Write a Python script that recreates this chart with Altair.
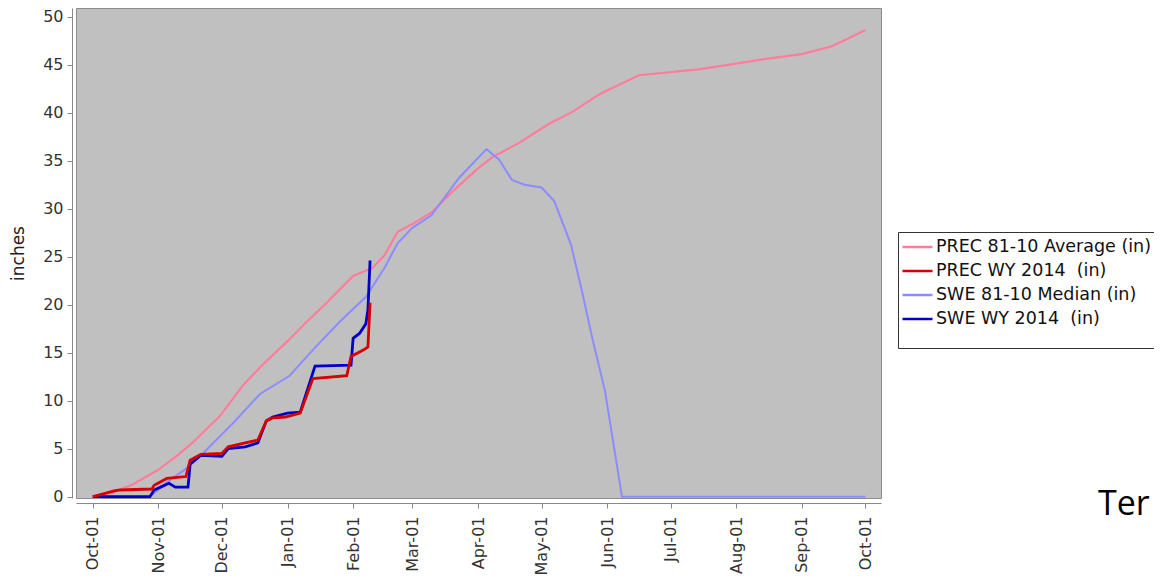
import altair as alt
import pandas as pd

series_names = ["PREC 81-10 Average (in)", "PREC WY 2014\u00a0 (in)",
                "SWE 81-10 Median (in)", "SWE WY 2014\u00a0 (in)"]
series_colors = ["#ff7d9b", "#d60000", "#8c8cff", "#0000c8"]

prec_avg_dates = ["2013-10-01", "2013-10-10", "2013-10-20", "2013-11-01", "2013-11-10",
                  "2013-11-17", "2013-11-30", "2013-12-11", "2013-12-20", "2014-01-01",
                  "2014-01-10", "2014-01-20", "2014-02-01", "2014-02-10", "2014-02-16",
                  "2014-02-22", "2014-03-01", "2014-03-10", "2014-03-20", "2014-04-01",
                  "2014-04-08", "2014-04-20", "2014-05-05", "2014-05-15", "2014-05-29",
                  "2014-06-16", "2014-07-14", "2014-08-01", "2014-08-15", "2014-09-01",
                  "2014-09-15", "2014-10-01"]
prec_avg_vals = [0.0, 0.4, 1.3, 2.8, 4.3,
                 5.6, 8.4, 11.6, 13.7, 16.2,
                 18.2, 20.3, 23.0, 23.8, 25.2,
                 27.6, 28.4, 29.6, 31.8, 34.2,
                 35.4, 36.8, 38.9, 40.0, 42.0,
                 43.9, 44.5, 45.1, 45.6, 46.1,
                 46.9, 48.6]

prec_wy_dates = ["2013-10-01", "2013-10-06", "2013-10-11", "2013-10-14", "2013-10-29",
                 "2013-10-30", "2013-11-05", "2013-11-14", "2013-11-16", "2013-11-21",
                 "2013-12-01", "2013-12-04", "2013-12-12", "2013-12-18", "2013-12-22",
                 "2013-12-25", "2013-12-31", "2014-01-07", "2014-01-13", "2014-01-29",
                 "2014-01-31", "2014-02-06", "2014-02-08", "2014-02-09"]
prec_wy_vals = [0.0, 0.3, 0.6, 0.7, 0.8,
                1.2, 1.9, 2.1, 3.8, 4.4,
                4.5, 5.2, 5.6, 5.9, 7.9,
                8.2, 8.3, 8.7, 12.3, 12.6,
                14.6, 15.3, 15.6, 20.2]

swe_med_dates = ["2013-10-01", "2013-10-28", "2013-11-05", "2013-11-14", "2013-11-22",
                 "2013-12-06", "2013-12-19", "2014-01-02", "2014-01-13", "2014-01-26",
                 "2014-02-07", "2014-02-16", "2014-02-22", "2014-03-01", "2014-03-10",
                 "2014-03-23", "2014-04-05", "2014-04-11", "2014-04-17", "2014-04-23",
                 "2014-05-01", "2014-05-07", "2014-05-15", "2014-05-20", "2014-05-25",
                 "2014-05-31", "2014-06-04", "2014-06-08", "2014-10-01"]
swe_med_vals = [0.0, 0.0, 1.5, 2.9, 4.5,
                7.6, 10.7, 12.6, 15.3, 18.3,
                20.8, 23.9, 26.4, 28.0, 29.3,
                33.2, 36.2, 35.1, 33.0, 32.5,
                32.2, 30.8, 26.2, 21.5, 16.5,
                11.0, 5.5, 0.0, 0.0]

swe_wy_dates = ["2013-10-01", "2013-10-28", "2013-10-30", "2013-11-02", "2013-11-06",
                "2013-11-09", "2013-11-15", "2013-11-16", "2013-11-21", "2013-12-01",
                "2013-12-04", "2013-12-12", "2013-12-18", "2013-12-22", "2013-12-25",
                "2014-01-01", "2014-01-07", "2014-01-14", "2014-01-31", "2014-02-01",
                "2014-02-04", "2014-02-07", "2014-02-08", "2014-02-09"]
swe_wy_vals = [0.0, 0.0, 0.7, 1.0, 1.4,
               1.0, 1.0, 3.4, 4.3, 4.2,
               5.0, 5.2, 5.6, 7.9, 8.3,
               8.7, 8.8, 13.6, 13.7, 16.5,
               17.0, 18.0, 19.5, 24.6]

tick_months = [(2013, 10), (2013, 11), (2013, 12), (2014, 1), (2014, 2), (2014, 3),
               (2014, 4), (2014, 5), (2014, 6), (2014, 7), (2014, 8), (2014, 9), (2014, 10)]
y_ticks = [0, 5, 10, 15, 20, 25, 30, 35, 40, 45, 50]

frames = []
for name, d, v in zip(series_names,
                      [prec_avg_dates, prec_wy_dates, swe_med_dates, swe_wy_dates],
                      [prec_avg_vals, prec_wy_vals, swe_med_vals, swe_wy_vals]):
    frames.append(pd.DataFrame({"date": d, "value": v, "series": name}))
df = pd.concat(frames, ignore_index=True)

x_enc = alt.X("date:T",
              scale=alt.Scale(type="utc",
                              domain=[alt.DateTime(year=2013, month=9, date=23, hours=2, utc=True),
                                      alt.DateTime(year=2014, month=10, date=8, hours=9, utc=True)]),
              axis=alt.Axis(title=None, labelAngle=-90, format="%b-%d",
                            values=[alt.DateTime(year=y, month=m, date=1, utc=True) for y, m in tick_months],
                            offset=5, labelPadding=8))
y_enc = alt.Y("value:Q", scale=alt.Scale(domain=[-0.135, 50.9], nice=False, zero=False),
              axis=alt.Axis(title="inches", values=y_ticks, offset=4, labelPadding=4,
                            titlePadding=15, titleFontSize=17))
color_enc = alt.Color("series:N",
                      scale=alt.Scale(domain=series_names, range=series_colors),
                      legend=alt.Legend(title=" ", titleOrient="bottom", titleFontSize=12,
                                        titlePadding=3, orient="none", legendX=822, legendY=224,
                                        padding=3, fillColor="white", strokeColor="#333333",
                                        symbolType="stroke", symbolSize=900,
                                        symbolStrokeWidth=2.5, labelFontSize=17.5,
                                        labelFont="DejaVu Sans", labelColor="#111111",
                                        labelOffset=2, labelLimit=0, clipHeight=24,
                                        rowPadding=0))

base = alt.Chart(df)
layers = []
order = [(series_names[0], 2.2), (series_names[2], 2.0),
         (series_names[3], 2.8), (series_names[1], 2.8)]
for name, w in order:
    layers.append(base.transform_filter(alt.datum.series == name)
                  .mark_line(strokeWidth=w)
                  .encode(x=x_enc, y=y_enc, color=color_enc))

note = alt.Chart(pd.DataFrame({"t": ["Ter"]})).mark_text(
    align="left", baseline="alphabetic", fontSize=34, font="Open Sans", color="#000000"
).encode(x=alt.value(1022), y=alt.value(507), text="t:N")

chart = alt.layer(*layers, note).properties(
    width=805, height=490,
    autosize=alt.AutoSizeParams(type="none"),
    padding={"left": 68, "top": 0, "right": 273, "bottom": 76},
).configure_view(fill="#c0c0c0", stroke="#8c8c8c").configure_axis(
    grid=False, domainColor="#888888", tickColor="#888888", tickSize=5,
    labelColor="#333333", labelFont="DejaVu Sans", labelFontSize=16,
    titleFont="DejaVu Sans", titleFontSize=16, titleFontWeight="normal", titleColor="#222222"
)

chart.save("out.html", embed_options={"renderer": "svg", "actions": False})
